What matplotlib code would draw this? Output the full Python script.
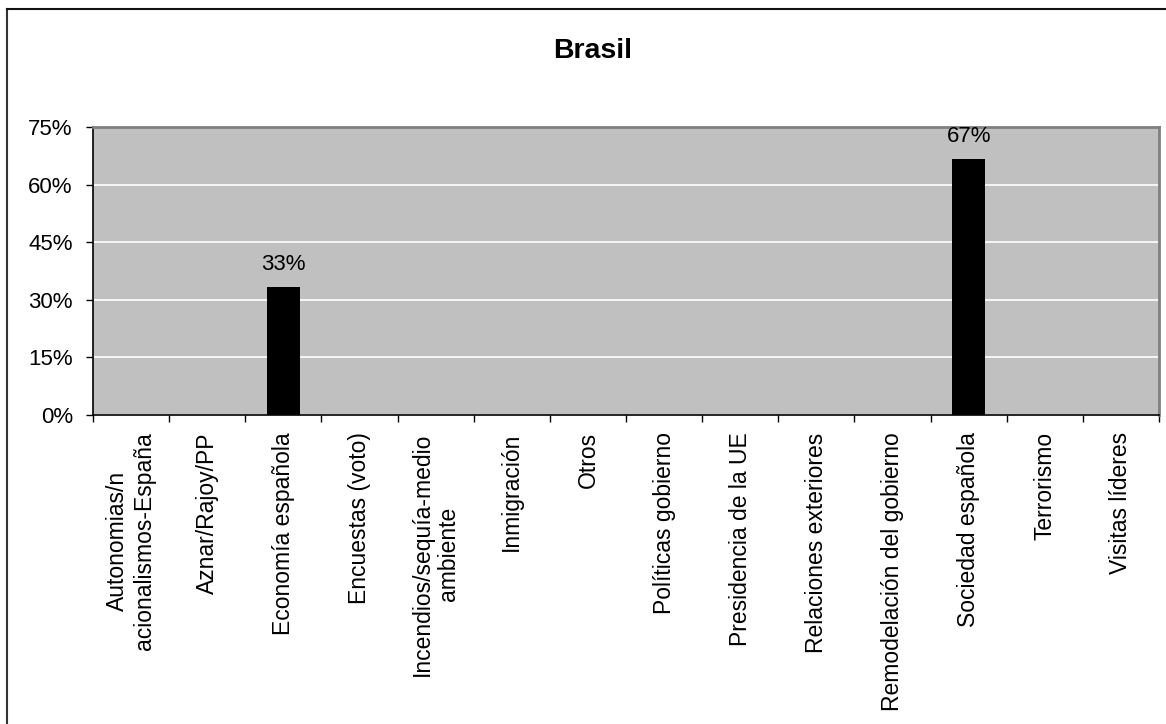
import matplotlib
matplotlib.use("Agg")
import matplotlib.pyplot as plt
from matplotlib.lines import Line2D
from matplotlib.ticker import FixedLocator, NullFormatter

plt.rcParams['font.family'] = ['Liberation Sans', 'DejaVu Sans']

title = "Brasil"
categories = [
    "Autonomias/n\nacionalismos-España",
    "Aznar/Rajoy/PP",
    "Economía española",
    "Encuestas (voto)",
    "Incendios/sequía-medio\nambiente",
    "Inmigración",
    "Otros",
    "Políticas gobierno",
    "Presidencia de la UE",
    "Relaciones exteriores",
    "Remodelación del gobierno",
    "Sociedad española",
    "Terrorismo",
    "Visitas líderes",
]
values = [0, 0, 33.3, 0, 0, 0, 0, 0, 0, 0, 0, 66.7, 0, 0]
yticks = [0, 15, 30, 45, 60, 75]

W, H = 1166, 724
fig = plt.figure(figsize=(W / 100, H / 100), dpi=100)
left, right, top, bottom = 93, 1159, 127, 415
ax = fig.add_axes([left / W, 1 - bottom / H, (right - left) / W, (bottom - top) / H])
ax.set_facecolor('#C0C0C0')

x = list(range(len(categories)))
bars = ax.bar(x, values, width=0.44, color='black', zorder=3)
for xi, v in zip(x, values):
    if v > 0:
        ax.annotate(f"{v:.0f}%", (xi, v), xytext=(0, 12), textcoords='offset points',
                    ha='center', va='baseline', fontsize=16, color='black', zorder=4)

ax.set_xlim(-0.5, len(categories) - 0.5)
ax.set_ylim(0, 75)
ax.set_yticks(yticks)
ax.set_yticklabels([f"{t}%" for t in yticks], fontsize=16)
ax.yaxis.grid(True, color='white', linewidth=1.2, zorder=1)
ax.set_axisbelow(True)
ax.tick_params(axis='y', direction='out', length=5, width=1, pad=9.5, color='black')

# boundaries as major ticks, labels at centers as minor ticks
ax.xaxis.set_major_locator(FixedLocator([i - 0.5 for i in range(len(categories) + 1)]))
ax.xaxis.set_major_formatter(NullFormatter())
ax.xaxis.set_minor_locator(FixedLocator(x))
ax.set_xticklabels(categories, minor=True, rotation=90, fontsize=16.5,
                   va='top', ha='center', multialignment='center', linespacing=1.2)
ax.tick_params(axis='x', which='major', direction='out', length=5, width=1, color='black')
ax.tick_params(axis='x', which='minor', length=0, pad=12.5)

for s in ['left', 'bottom']:
    ax.spines[s].set_color('black')
    ax.spines[s].set_linewidth(1.2)
for s in ['top', 'right']:
    ax.spines[s].set_color('#808080')
    ax.spines[s].set_linewidth(2)

fig.text(593 / W, 1 - 51 / H, title, ha='center', va='center', fontsize=20.5,
         fontweight='bold')

# outer chart frame (cropped on right/bottom)
fig.add_artist(Line2D([7 / W, 7 / W], [0, 1 - 9 / H], color='#333333', linewidth=1.5,
                      transform=fig.transFigure))
fig.add_artist(Line2D([7 / W, 1], [1 - 9 / H, 1 - 9 / H], color='#111111', linewidth=1.5,
                      transform=fig.transFigure))

fig.savefig("out.png", dpi=100, facecolor='white')
